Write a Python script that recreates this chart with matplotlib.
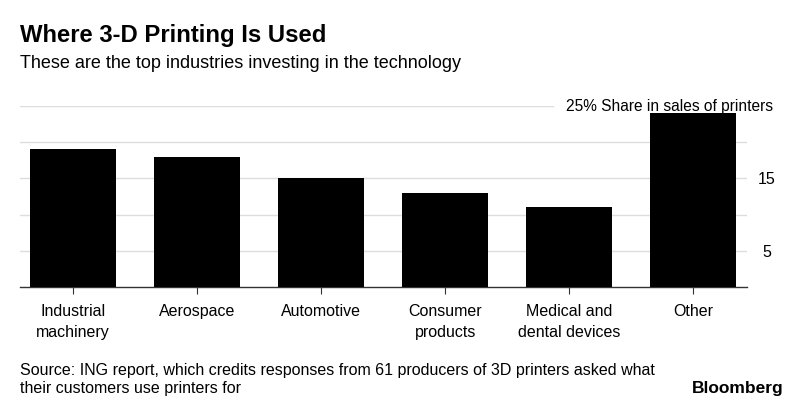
import numpy as np
import matplotlib.pyplot as plt

plt.rcParams['font.family'] = ['Liberation Sans', 'DejaVu Sans']

categories = ["Industrial\nmachinery", "Aerospace", "Automotive",
              "Consumer\nproducts", "Medical and\ndental devices", "Other"]
shares = [19, 18, 15, 13, 11, 24]
ytick_vals = [5, 15]
grid_vals = [5, 10, 15, 20]

fig = plt.figure(figsize=(8, 4.09), dpi=100)
ax = fig.add_axes([0.025, 0.2983, 0.909, 0.4425])

x = np.arange(len(categories))
ax.bar(x, shares, 0.69, color="black", zorder=3)

# light grid, top line stops short of the unit label
for v in grid_vals:
    ax.axhline(v, color="#dddddd", lw=1, zorder=1)
ax.axhline(25, xmax=0.733, color="#dddddd", lw=1, zorder=1)

ax.set_xlim(-0.427, 5.435)
ax.set_ylim(0, 25)

for s in ["top", "left", "right"]:
    ax.spines[s].set_visible(False)
ax.spines["bottom"].set_color("#333333")
ax.spines["bottom"].set_linewidth(1)

ax.set_xticks(x)
ax.set_xticklabels(categories, fontsize=11.5, linespacing=1.5)
ax.tick_params(axis="x", length=5, color="#333333", pad=7)

ax.yaxis.tick_right()
ax.set_yticks(ytick_vals)
ax.set_yticklabels([str(v) for v in ytick_vals], fontsize=11.5, ha="center")
ax.tick_params(axis="y", length=0, pad=14)

fig.text(0.966, 1 - 106 / 409, "25% Share in sales of printers", fontsize=11.2,
         ha="right", va="center")

fig.text(0.025, 1 - 42 / 409, "Where 3-D Printing Is Used", fontsize=17.2,
         fontweight="bold", va="baseline")
fig.text(0.025, 1 - 68 / 409, "These are the top industries investing in the technology",
         fontsize=13, va="baseline")

fig.text(0.025, 1 - 375 / 409,
         "Source: ING report, which credits responses from 61 producers of 3D printers asked what",
         fontsize=11.5, va="baseline")
fig.text(0.025, 1 - 393 / 409, "their customers use printers for",
         fontsize=11.5, va="baseline")
fig.text(0.979, 1 - 393 / 409, "Bloomberg", fontsize=12.5, fontweight="bold",
         ha="right", va="baseline")

fig.savefig("out.png", dpi=100)
